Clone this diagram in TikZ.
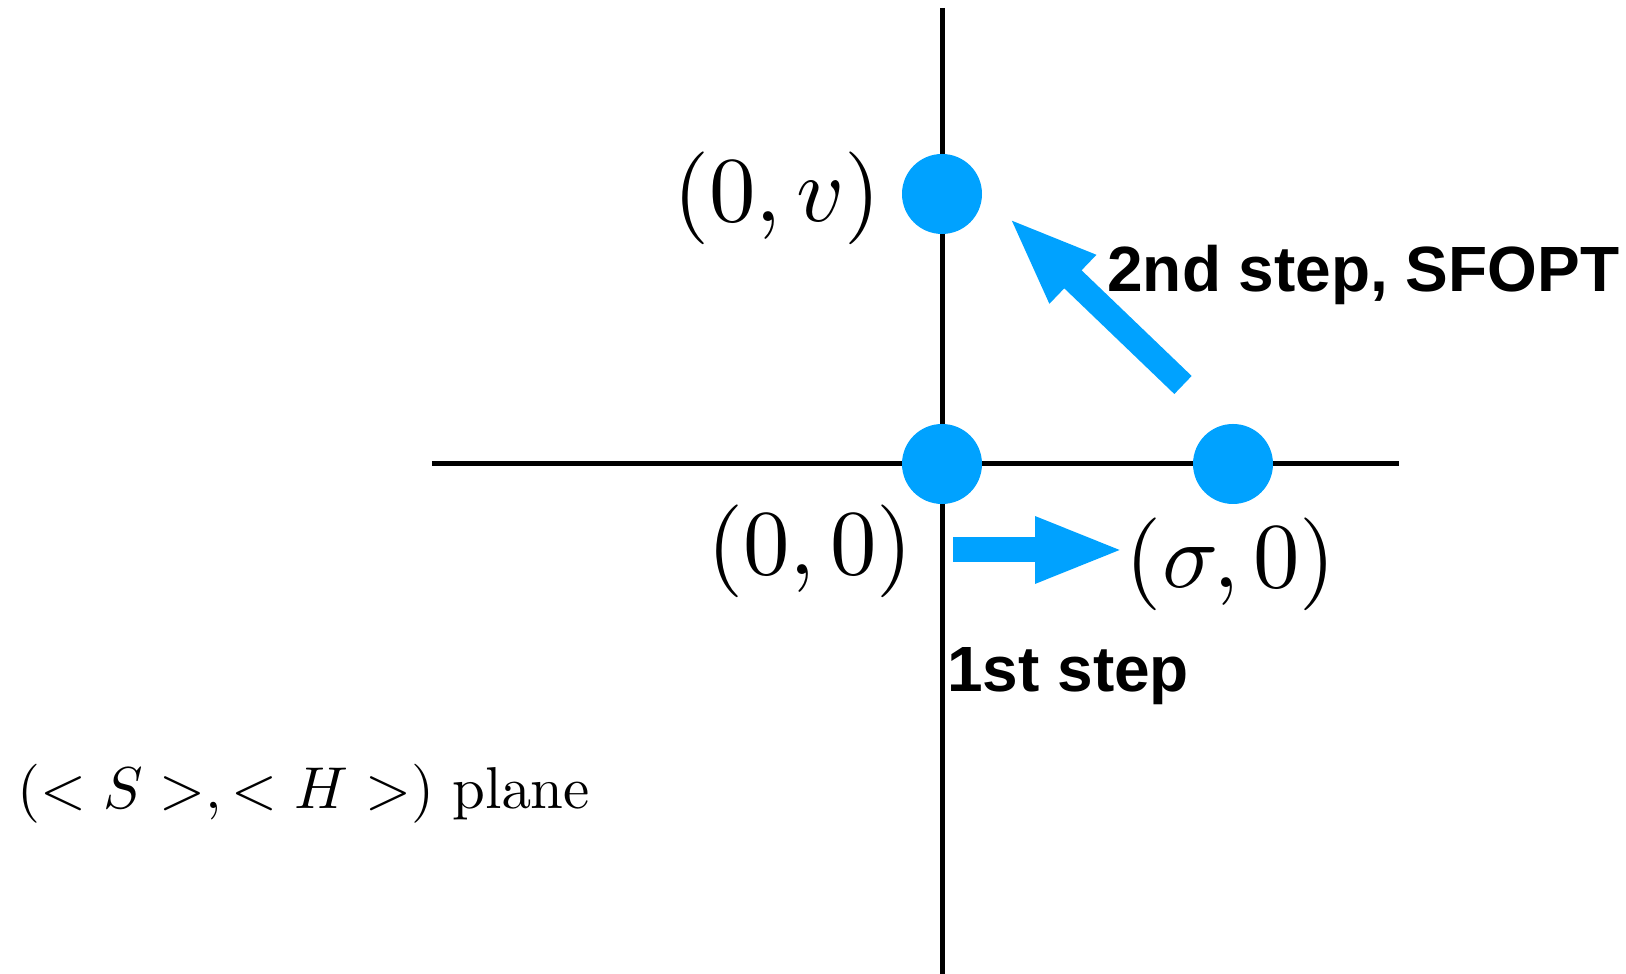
\documentclass[tikz,border=0pt]{standalone}
\usepackage{amsmath, amssymb}
\usepackage[no-math]{fontspec}
\newfontfamily\stepfont{Liberation Sans}
\usepackage{xcolor}
\usepackage{tikz}
\usetikzlibrary{arrows.meta, calc}
\DeclareFontShape{OT1}{cmr}{m}{n}{<->cmr10}{}
\DeclareFontShape{OML}{cmm}{m}{it}{<->cmmi10}{}
\definecolor{dotblue}{HTML}{00A2FF}

\begin{document}
\begin{tikzpicture}[>=Stealth, thick,
    axis/.style={line width=1.42pt, black},
    dot/.style={circle, fill=dotblue, inner sep=0pt, minimum size=0.8cm},
    ptlabel/.style={inner sep=0pt, font=\fontsize{26.4}{31}\selectfont},
    steplabel/.style={inner sep=0pt, font=\stepfont\bfseries\fontsize{18.2}{22}\selectfont},
    bigarrow/.style={line width=0.25cm, dotblue, -{Triangle[length=0.9cm, width=0.6cm]}}]
    \useasboundingbox (-9.42,-5.10) rectangle (6.84,4.64);
    % axes
    \coordinate (ytop) at (0,4.56);
    \coordinate (ybot) at (0,-5.12);
    \coordinate (xleft) at (-5.10,0);
    \coordinate (xright) at (4.57,0);
    \draw[axis] (ytop) -- (ybot);
    \draw[axis] (xleft) -- (xright);
    % points
    \node[dot] (origin) at (0,0) {};
    \node[dot] (vpt) at (0,2.70) {};
    \node[dot] (spt) at (2.91,0) {};
    \node[ptlabel, anchor=base east] (vlabel) at (-0.60,2.42) {$(0,v)$};
    \node[ptlabel, anchor=base east] (olabel) at (-0.28,-1.11) {$(0,0)$};
    \node[ptlabel, anchor=base] (slabel) at (2.89,-1.24) {$(\sigma,0)$};
    % steps
    \coordinate (firsttail) at (0.11,-0.86);
    \coordinate (firsttip) at (1.83,-0.86);
    \coordinate (secondtail) at (2.41,0.79);
    \coordinate (secondtip) at (0.66,2.47);
    \draw[bigarrow] (firsttail) -- (firsttip);
    \draw[bigarrow] (secondtail) -- (secondtip);
    \node[steplabel, anchor=base west] (firststep) at (0.04,-2.28) {1st step};
    \node[steplabel, anchor=base west] (secondstep) at (1.64,1.72) {2nd step, SFOPT};
    \node[inner sep=0pt, anchor=base west, font=\fontsize{16.8}{20}\selectfont]
        (plane) at (-9.26,-3.45) {$(<S>,<H>)\ \mathrm{plane}$};
\end{tikzpicture}
\end{document}
